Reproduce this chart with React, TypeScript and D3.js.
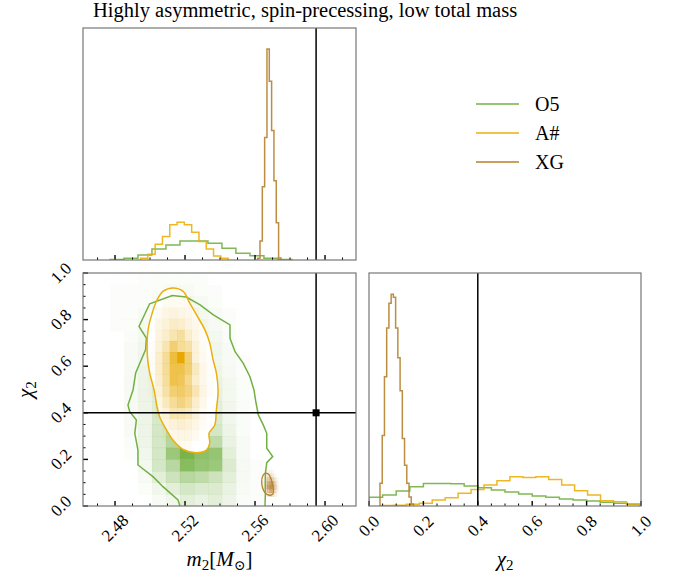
import React from 'react';
import * as d3 from 'd3';

// ---------------- data ----------------
const seriesNames = ['O5', 'A#', 'XG'];
const titleText = 'Highly asymmetric, spin-precessing, low total mass';

const m2TickValues = [2.48, 2.52, 2.56, 2.6];
const m2TickLabels = ['2.48', '2.52', '2.56', '2.60'];
const chiTickValues = [0, 0.2, 0.4, 0.6, 0.8, 1.0];
const chiTickLabels = ['0.0', '0.2', '0.4', '0.6', '0.8', '1.0'];

const truthM2 = 2.5949;
const truthChi2 = 0.4;

// 1D marginals, m2
const o5M2Start = 2.4771, o5M2Width = 0.008;
const o5M2Counts = [0.5, 1.7, 5, 11, 15, 19, 19, 16.7, 11.7, 6.7, 4.3, 1.7, 0.5];
const aM2Start = 2.4946, aM2Width = 0.00417;
const aM2Counts = [1.7, 5.7, 15.7, 23.3, 35, 37.7, 35, 27.7, 18.3, 11, 4, 1.7];
const xgM2Start = 2.5615, xgM2Width = 0.00133;
const xgM2Counts = [1.7, 19, 73, 122, 210, 178, 129, 79, 37, 2];

// 1D marginals, chi2
const o5ChiStart = 0, o5ChiWidth = 0.05;
const o5ChiCounts = [8.7, 11, 15, 19.3, 22.7, 22.7, 22.3, 20, 18.3, 16, 14, 12, 10, 8.7, 7, 6, 5, 3.7, 2.7, 1.7];
const aChiStart = 0.042, aChiWidth = 0.0476;
const aChiCounts = [0.5, 0.7, 1.7, 2.7, 6, 8.3, 12.7, 16.7, 21, 25.3, 29.3, 28.7, 29.3, 26.7, 21, 15.3, 11, 5.3, 4.3, 2];
const xgChiStart = 0.0404, xgChiWidth = 0.00821;
const xgChiCounts = [23, 71, 130, 179, 204, 213, 210, 179, 149, 116, 68, 41, 23, 9, 2];

// 2D densities (rows: chi2 bins from bottom, cols: m2 bins)
const o5Grid = [
  [0, 0, 0, .05, .1, .2, .15, .2, .12, .04, .02, 0, 0],
  [0, 0, .03, .1, .2, .3, .25, .25, .15, .05, .02, 0, 0],
  [0, 0, .05, .2, .35, .5, .45, .35, .2, .06, .02, 0, 0],
  [0, 0, .08, .3, .5, .85, .75, .7, .25, .06, .02, 0, 0],
  [0, .03, .1, .3, .7, .95, .8, .75, .2, .05, 0, 0, 0],
  [0, .04, .12, .3, .5, .6, .55, .45, .15, .05, 0, 0, 0],
  [0, .05, .12, .3, .45, .5, .45, .3, .12, .04, 0, 0, 0],
  [0, .05, .12, .28, .35, .38, .35, .25, .1, .04, 0, 0, 0],
  [0, .06, .12, .22, .28, .3, .25, .2, .1, .04, 0, 0, 0],
  [0, .06, .12, .2, .24, .24, .2, .16, .08, .03, 0, 0, 0],
  [0, .06, .12, .18, .22, .22, .18, .14, .08, .03, 0, 0, 0],
  [0, .06, .12, .16, .2, .2, .16, .12, .06, .02, 0, 0, 0],
  [0, .05, .1, .15, .18, .18, .15, .1, .05, .02, 0, 0, 0],
  [0, .05, .1, .14, .16, .16, .14, .1, .05, 0, 0, 0, 0],
  [0, .04, .08, .12, .14, .14, .12, .08, .04, 0, 0, 0, 0],
  [.02, .03, .06, .1, .12, .12, .1, .06, .03, 0, 0, 0, 0],
  [.02, .03, .05, .08, .1, .1, .08, .05, .02, 0, 0, 0, 0],
  [.02, .02, .03, .06, .08, .08, .06, .03, 0, 0, 0, 0, 0],
  [.02, .02, .02, .03, .05, .05, .03, .02, 0, 0, 0, 0, 0],
  [.01, .01, .02, .03, .03, .03, .02, 0, 0, 0, 0, 0, 0],
];
const aGrid = [
  [0, 0, 0, 0, 0, 0, 0, 0, 0, 0, 0, 0],
  [0, 0, 0, 0, 0, 0, 0, 0, 0, 0, 0, 0],
  [0, 0, 0, 0, 0, 0, 0, 0, 0, 0, 0, 0],
  [0, 0, 0, 0, 0, .02, 0, 0, 0, 0, 0, 0],
  [0, 0, 0, 0, .04, .05, .05, 0, 0, 0, 0, 0],
  [0, 0, 0, .05, .08, .1, .1, .06, 0, 0, 0, 0],
  [0, 0, 0, .1, .15, .18, .15, .1, .04, 0, 0, 0],
  [0, 0, .08, .15, .3, .3, .25, .15, .05, 0, 0, 0],
  [0, 0, .1, .25, .4, .5, .4, .2, .08, 0, 0, 0],
  [0, .03, .15, .35, .55, .6, .5, .3, .1, .03, 0, 0],
  [0, .03, .18, .38, .7, .65, .45, .2, .08, .02, 0, 0],
  [0, .03, .2, .4, .7, .7, .55, .25, .08, .02, 0, 0],
  [0, .03, .2, .4, .75, 1, .55, .15, .06, 0, 0, 0],
  [0, .02, .15, .3, .55, .4, .35, .15, .05, 0, 0, 0],
  [0, 0, .12, .2, .3, .38, .2, .1, .03, 0, 0, 0],
  [0, 0, .1, .15, .22, .2, .12, .08, .02, 0, 0, 0],
  [0, 0, .05, .1, .12, .1, .08, .05, 0, 0, 0, 0],
  [0, 0, 0, .05, .05, .05, .05, 0, 0, 0, 0, 0],
  [0, 0, 0, .02, .03, .02, 0, 0, 0, 0, 0, 0],
  [0, 0, 0, 0, 0, 0, 0, 0, 0, 0, 0, 0],
];
const xgGridChiWidth = 0.01642;
const xgGrid = [
  [0, 0, 0, .05, .15, .25, .2, .1, .03, 0],
  [0, 0, .05, .2, .45, .6, .5, .25, .08, 0],
  [0, .02, .1, .35, .7, .85, .7, .35, .1, 0],
  [0, .02, .1, .3, .6, .75, .6, .3, .08, 0],
  [0, 0, .05, .2, .4, .45, .35, .15, .05, 0],
  [0, 0, .03, .1, .2, .2, .15, .05, 0, 0],
  [0, 0, 0, .05, .08, .08, .05, 0, 0, 0],
  [0, 0, 0, 0, .02, .02, 0, 0, 0, 0],
];

// contour lines
const o5ContourM2 = [2.5171, 2.5160, 2.5074, 2.5017, 2.4931, 2.4931, 2.4913, 2.4922, 2.4884, 2.4874, 2.4903, 2.4918, 2.4950, 2.4975, 2.4979, 2.4937, 2.4998, 2.5127, 2.5207, 2.5286, 2.5362, 2.5457, 2.5457, 2.5486, 2.5533, 2.5571, 2.5594, 2.5606, 2.5619, 2.5647, 2.5667, 2.5667, 2.5701, 2.5667, 2.5659, 2.5659, 2.5657];
const o5ContourChi = [0.0, 0.026, 0.083, 0.126, 0.176, 0.240, 0.312, 0.369, 0.405, 0.433, 0.498, 0.571, 0.628, 0.671, 0.721, 0.771, 0.868, 0.903, 0.897, 0.863, 0.820, 0.777, 0.720, 0.662, 0.612, 0.555, 0.498, 0.441, 0.391, 0.348, 0.312, 0.248, 0.212, 0.186, 0.140, 0.055, 0.0];
const aContourM2 = [2.5131, 2.5189, 2.5227, 2.5265, 2.5313, 2.5341, 2.5360, 2.5379, 2.5389, 2.5379, 2.5370, 2.5337, 2.5341, 2.5322, 2.5265, 2.5189, 2.5131, 2.5084, 2.5055, 2.5040, 2.5023, 2.4998, 2.4985, 2.4989, 2.5007, 2.5040, 2.5074];
const aContourChi = [0.936, 0.921, 0.871, 0.821, 0.757, 0.700, 0.628, 0.571, 0.492, 0.412, 0.348, 0.312, 0.269, 0.240, 0.229, 0.243, 0.283, 0.340, 0.383, 0.426, 0.498, 0.571, 0.642, 0.757, 0.814, 0.884, 0.921];
const xgContourM2 = [2.5657, 2.5676, 2.5690, 2.5699, 2.5705, 2.5701, 2.5676, 2.5657, 2.5644, 2.5638, 2.5644];
const xgContourChi = [0.1403, 0.1373, 0.1189, 0.0974, 0.0687, 0.0502, 0.0472, 0.0571, 0.0760, 0.1043, 0.1288];

// ---------------- styles / layout ----------------
const GREEN = '#72b043';
const YELLOW = '#ebb00c';
const BROWN = '#b5822d';
const seriesColors = [GREEN, YELLOW, BROWN];
const FONT = '"Liberation Serif", "DejaVu Serif", serif';
const FRAME = '#777';
const TICKFS = 17;

const topP = { l: 83, r: 356, t: 28, b: 260 };
const midP = { l: 83, r: 356, t: 273, b: 506 };
const rgtP = { l: 369, r: 641, t: 273, b: 506 };

const xM2 = d3.scaleLinear().domain([2.4617, 2.6177]).range([midP.l, midP.r]);
const yChi = d3.scaleLinear().domain([0, 1]).range([midP.b, midP.t]);
const xChi = d3.scaleLinear().domain([0, 1]).range([rgtP.l, rgtP.r]);
const topMax = d3.max([...o5M2Counts, ...aM2Counts, ...xgM2Counts]) as number;
const yTop = d3.scaleLinear().domain([0, topMax * 1.1]).range([topP.b, topP.t]);
const rgtMax = d3.max([...o5ChiCounts, ...aChiCounts, ...xgChiCounts]) as number;
const yRgt = d3.scaleLinear().domain([0, rgtMax * 1.1]).range([rgtP.b, rgtP.t]);

function stepPath(start: number, width: number, counts: number[], x: any, y: any) {
  const pts: [number, number][] = [[x(start), y(0)]];
  counts.forEach((c, i) => {
    pts.push([x(start + i * width), y(c)]);
    pts.push([x(start + (i + 1) * width), y(c)]);
  });
  pts.push([x(start + counts.length * width), y(0)]);
  return d3.line()(pts) as string;
}

function cells(grid: number[][], x0: number, dx: number, y0: number, dy: number, color: string, key: string) {
  const out: any[] = [];
  grid.forEach((row, j) => row.forEach((v, i) => {
    if (v <= 0) return;
    const xa = xM2(x0 + i * dx), xb = xM2(x0 + (i + 1) * dx);
    const ya = yChi(y0 + (j + 1) * dy), yb = yChi(y0 + j * dy);
    out.push(<rect key={`${key}-${i}-${j}`} x={xa} y={ya} width={xb - xa + 0.3} height={yb - ya + 0.3}
      fill={color} fillOpacity={v} />);
  }));
  return out;
}

const lineOpen = d3.line<[number, number]>().x(d => xM2(d[0])).y(d => yChi(d[1]));
const lineClosed = d3.line<[number, number]>().x(d => xM2(d[0])).y(d => yChi(d[1])).curve(d3.curveCatmullRomClosed.alpha(0.5));
const zip = (a: number[], b: number[]) => a.map((v, i) => [v, b[i]] as [number, number]);

function ticksRange(a: number, b: number, step: number) {
  const n = Math.round((b - a) / step);
  return d3.range(n + 1).map(i => +(a + i * step).toFixed(4));
}
const m2Minor = ticksRange(2.47, 2.61, 0.01);
const chiMinor = ticksRange(0, 1, 0.05);
const isMajor = (v: number, list: number[]) => list.some(t => Math.abs(t - v) < 1e-6);

function XTicks({ scale, base, values, majors }: any) {
  return (
    <g>
      {values.map((v: number) => {
        const X = scale(v);
        const maj = isMajor(v, majors);
        return <line key={v} x1={X} x2={X} y1={base} y2={base - (maj ? 5 : 2.5)} stroke="#000" strokeWidth={maj ? 1.4 : 1} />;
      })}
    </g>
  );
}

export default function App() {
  const hists = [
    { s: o5M2Start, w: o5M2Width, c: o5M2Counts },
    { s: aM2Start, w: aM2Width, c: aM2Counts },
    { s: xgM2Start, w: xgM2Width, c: xgM2Counts },
  ];
  const histsR = [
    { s: o5ChiStart, w: o5ChiWidth, c: o5ChiCounts },
    { s: aChiStart, w: aChiWidth, c: aChiCounts },
    { s: xgChiStart, w: xgChiWidth, c: xgChiCounts },
  ];
  const tx = xM2(truthM2), ty = yChi(truthChi2);
  return (
    <svg width={673} height={577} style={{ position: 'absolute', left: 0, top: 0, background: '#fff' }}
      fontFamily={FONT}>
      <defs>
        <clipPath id="cTop"><rect x={topP.l} y={topP.t} width={topP.r - topP.l} height={topP.b - topP.t} /></clipPath>
        <clipPath id="cMid"><rect x={midP.l} y={midP.t} width={midP.r - midP.l} height={midP.b - midP.t} /></clipPath>
        <clipPath id="cRgt"><rect x={rgtP.l} y={rgtP.t} width={rgtP.r - rgtP.l} height={rgtP.b - rgtP.t} /></clipPath>
      </defs>
      <rect x={0} y={0} width={673} height={577} fill="#fff" />

      <text x={93} y={17} fontSize={20.5}>{titleText}</text>

      {/* top marginal */}
      <g clipPath="url(#cTop)">
        {hists.map((h, i) => (
          <path key={i} d={stepPath(h.s, h.w, h.c, xM2, yTop)} fill="none" stroke={seriesColors[i]} strokeWidth={1.5} strokeOpacity={0.9} />
        ))}
        <line x1={tx} x2={tx} y1={topP.t} y2={topP.b} stroke="#000" strokeWidth={1.5} />
      </g>
      <XTicks scale={xM2} base={topP.b} values={m2Minor} majors={m2TickValues} />
      <rect x={topP.l} y={topP.t} width={topP.r - topP.l} height={topP.b - topP.t} fill="none" stroke={FRAME} strokeWidth={1.2} />

      {/* 2D panel */}
      <g clipPath="url(#cMid)">
        {cells(o5Grid, o5M2Start, o5M2Width, 0, o5ChiWidth, GREEN, 'g')}
        <path d={lineClosed(zip(aContourM2, aContourChi)) as string} fill="#fff" stroke="none" />
        {cells(aGrid, aM2Start, aM2Width, aChiStart, aChiWidth, '#e8a800', 'a')}
        <path d={lineClosed(zip(xgContourM2, xgContourChi)) as string} fill="#fff" stroke="none" />
        {cells(xgGrid, xgM2Start, xgM2Width, xgChiStart, xgGridChiWidth, '#b87a28', 'x')}
        <path d={lineOpen(zip(o5ContourM2, o5ContourChi)) as string} fill="none" stroke={GREEN} strokeWidth={1.5} />
        <path d={lineClosed(zip(aContourM2, aContourChi)) as string} fill="none" stroke={YELLOW} strokeWidth={1.5} />
        <path d={lineClosed(zip(xgContourM2, xgContourChi)) as string} fill="none" stroke={BROWN} strokeWidth={1.3} />
        <line x1={tx} x2={tx} y1={midP.t} y2={midP.b} stroke="#000" strokeWidth={1.5} />
        <line x1={midP.l} x2={midP.r} y1={ty} y2={ty} stroke="#000" strokeWidth={1.5} />
        <rect x={tx - 3.5} y={ty - 3.5} width={7} height={7} fill="#000" />
      </g>
      <XTicks scale={xM2} base={midP.b} values={m2Minor} majors={m2TickValues} />
      {chiMinor.map(v => {
        const maj = isMajor(v, chiTickValues);
        return <line key={'yt' + v} x1={midP.l} x2={midP.l + (maj ? 5 : 2.5)} y1={yChi(v)} y2={yChi(v)} stroke="#000" strokeWidth={maj ? 1.4 : 1} />;
      })}
      <rect x={midP.l} y={midP.t} width={midP.r - midP.l} height={midP.b - midP.t} fill="none" stroke={FRAME} strokeWidth={1.2} />
      {m2TickValues.map((v, i) => (
        <text key={'xl' + i} transform={`translate(${xM2(v)},${528}) rotate(-45)`} textAnchor="middle" dominantBaseline="central" fontSize={TICKFS}>{m2TickLabels[i]}</text>
      ))}
      {chiTickValues.map((v, i) => (
        <text key={'yl' + i} transform={`translate(${61},${yChi(v)}) rotate(-45)`} textAnchor="middle" dominantBaseline="central" fontSize={TICKFS}>{chiTickLabels[i]}</text>
      ))}
      <text x={(midP.l + midP.r) / 2} y={566} textAnchor="middle" fontSize={21}>
        <tspan fontStyle="italic">m</tspan><tspan fontSize={15} dy={4}>2</tspan><tspan dy={-4}>[</tspan><tspan fontStyle="italic">M</tspan><tspan fontSize={14} dy={4}>⊙</tspan><tspan dy={-4}>]</tspan>
      </text>
      <text transform={`translate(${32},${(midP.t + midP.b) / 2}) rotate(-90)`} textAnchor="middle" fontSize={21}>
        <tspan fontStyle="italic">χ</tspan><tspan fontSize={15} dy={4}>2</tspan>
      </text>

      {/* right marginal */}
      <g clipPath="url(#cRgt)">
        {histsR.map((h, i) => (
          <path key={i} d={stepPath(h.s, h.w, h.c, xChi, yRgt)} fill="none" stroke={seriesColors[i]} strokeWidth={1.5} strokeOpacity={0.9} />
        ))}
        <line x1={xChi(truthChi2)} x2={xChi(truthChi2)} y1={rgtP.t} y2={rgtP.b} stroke="#000" strokeWidth={1.5} />
      </g>
      <XTicks scale={xChi} base={rgtP.b} values={chiMinor} majors={chiTickValues} />
      <rect x={rgtP.l} y={rgtP.t} width={rgtP.r - rgtP.l} height={rgtP.b - rgtP.t} fill="none" stroke={FRAME} strokeWidth={1.2} />
      {chiTickValues.map((v, i) => (
        <text key={'rl' + i} transform={`translate(${xChi(v)},${526}) rotate(-45)`} textAnchor="middle" dominantBaseline="central" fontSize={TICKFS}>{chiTickLabels[i]}</text>
      ))}
      <text x={(rgtP.l + rgtP.r) / 2} y={566} textAnchor="middle" fontSize={21}>
        <tspan fontStyle="italic">χ</tspan><tspan fontSize={15} dy={4}>2</tspan>
      </text>

      {/* legend */}
      {seriesNames.map((n, i) => {
        const yy = 104 + i * 29;
        return (
          <g key={n}>
            <line x1={476} x2={519} y1={yy} y2={yy} stroke={seriesColors[i]} strokeWidth={1.5} />
            <text x={535} y={yy} dominantBaseline="central" fontSize={20}>{n}</text>
          </g>
        );
      })}
    </svg>
  );
}
